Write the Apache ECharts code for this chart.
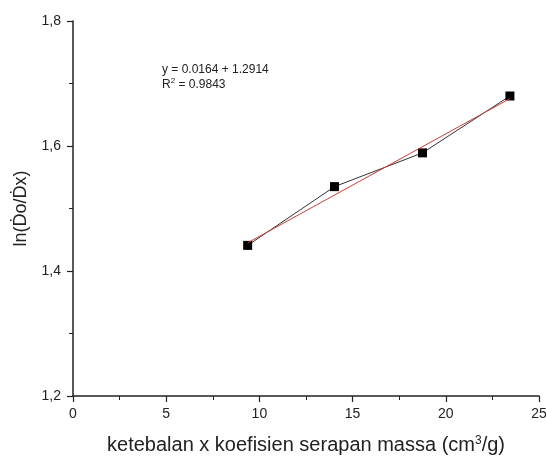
<!DOCTYPE html>
<html>
<head>
<meta charset="utf-8">
<script src="https://cdn.jsdelivr.net/npm/echarts@6/dist/echarts.min.js"></script>
<style>
html,body{margin:0;padding:0;background:#fff;}
#chart{width:546px;height:456px;}
</style>
</head>
<body>
<div id="chart"></div>
<script>
// Data
var xValues = [9.37, 14.03, 18.75, 23.44];
var yValues = [1.441, 1.535, 1.589, 1.680];
var fitIntercept = 1.2914;
var fitSlope = 0.0164;
var equationLines = ['y = 0.0164 + 1.2914', 'R{sup|2} = 0.9843'];
var xTicks = [0, 5, 10, 15, 20, 25];
var yTicks = [1.2, 1.4, 1.6, 1.8];

var points = xValues.map(function (x, i) { return [x, yValues[i]]; });
var xFirst = xValues[0], xLast = xValues[xValues.length - 1];
var fitLine = [[xFirst, fitIntercept + fitSlope * xFirst], [xLast, fitIntercept + fitSlope * xLast]];

var font = 'Liberation Sans, Arial, sans-serif';
var axisColor = '#222';

var chart = echarts.init(document.getElementById('chart'), null, {renderer: 'canvas'});
chart.setOption({
  backgroundColor: '#fff',
  animation: false,
  grid: {left: 73, right: 7, top: 21, bottom: 60, containLabel: false, outerBoundsMode: 'none'},
  xAxis: {
    type: 'value', min: 0, max: 25, interval: 5,
    name: 'ketebalan x koefisien serapan massa (cm{sup|3}/g)',
    nameLocation: 'middle', nameGap: 39,
    nameTextStyle: {
      fontFamily: font, fontSize: 20, color: '#222',
      rich: {sup: {fontFamily: font, fontSize: 12, color: '#222', verticalAlign: 'top', padding: [0, 0, 9, 0]}}
    },
    axisLine: {show: true, onZero: false, lineStyle: {color: axisColor, width: 1.5}},
    axisTick: {show: true, inside: false, length: 6, lineStyle: {color: axisColor, width: 1.2}},
    minorTick: {show: true, splitNumber: 2, length: 4, lineStyle: {color: axisColor, width: 1}},
    axisLabel: {fontFamily: font, fontSize: 14, color: '#222', margin: 11,
      formatter: function (v) { return xTicks.indexOf(v) >= 0 ? String(v) : ''; }},
    splitLine: {show: false}
  },
  yAxis: {
    type: 'value', min: 1.2, max: 1.8, interval: 0.2,
    name: 'ln(\u1E0Ao/\u1E0Ax)',
    nameLocation: 'middle', nameGap: 43,
    nameTextStyle: {fontFamily: font, fontSize: 18, color: '#222'},
    axisLine: {show: true, onZero: false, lineStyle: {color: axisColor, width: 1.5}},
    axisTick: {show: true, inside: false, length: 6, lineStyle: {color: axisColor, width: 1.2}},
    minorTick: {show: true, splitNumber: 2, length: 4, lineStyle: {color: axisColor, width: 1}},
    axisLabel: {fontFamily: font, fontSize: 14, color: '#222', margin: 12,
      formatter: function (v) { return v.toFixed(1).replace('.', ','); }},
    splitLine: {show: false}
  },
  graphic: [{
    type: 'text', left: 162, top: 62,
    style: {
      text: equationLines.join('\n'),
      font: '12px ' + font, fill: '#222', lineHeight: 15,
      rich: {sup: {font: '8px ' + font, fill: '#222', verticalAlign: 'top', padding: [0, 0, 4, 0]}}
    }
  }],
  series: [
    {
      type: 'line', data: points, symbol: 'rect', symbolSize: 9,
      itemStyle: {color: '#000'},
      lineStyle: {color: '#333', width: 1}, z: 3
    },
    {
      type: 'line', data: fitLine, symbol: 'none',
      lineStyle: {color: '#c83c3c', width: 1}, z: 4
    }
  ]
});
</script>
</body>
</html>
